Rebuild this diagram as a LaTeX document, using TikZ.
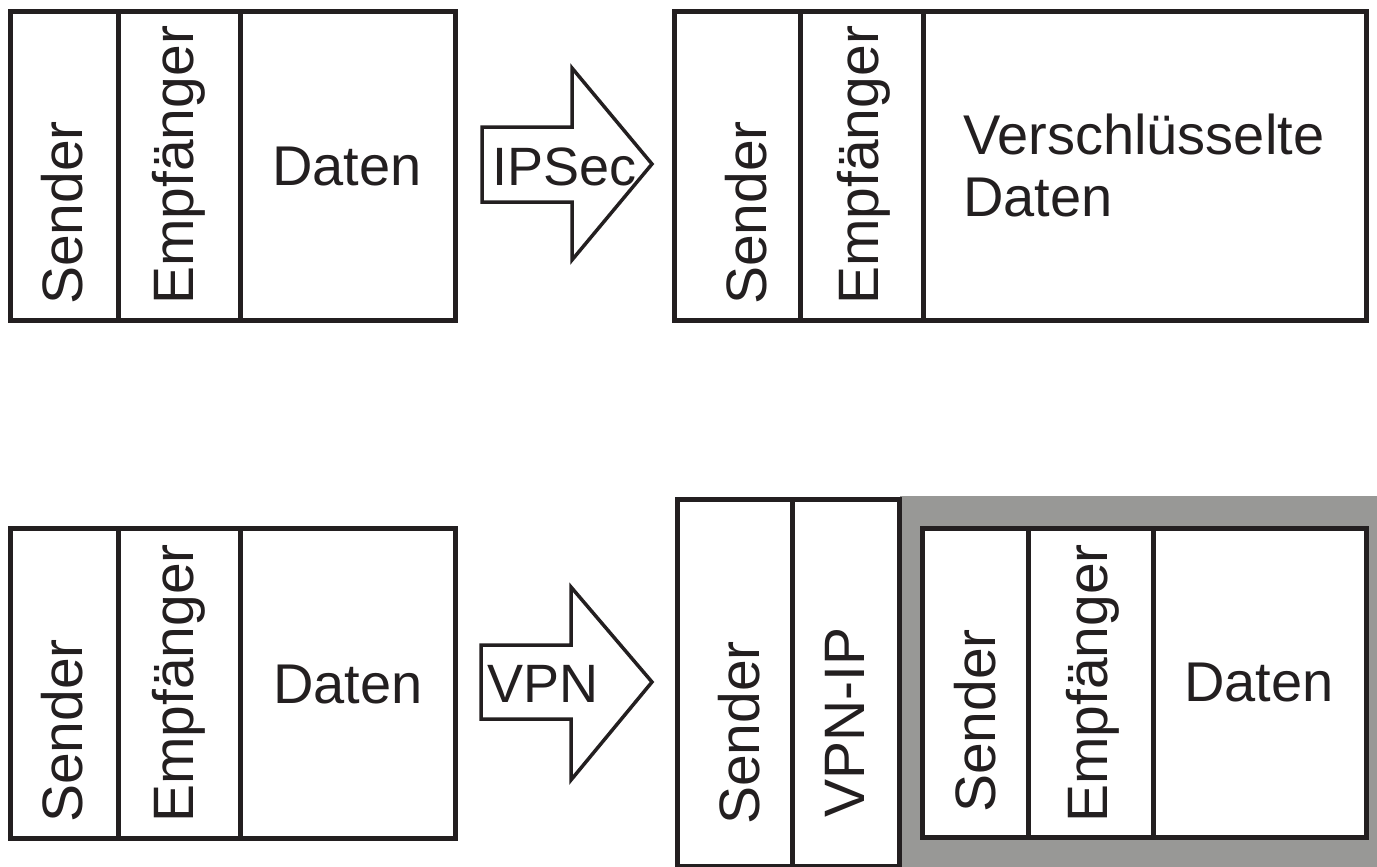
\documentclass[tikz,border=0pt]{standalone}
\usepackage{fontspec}
\setmainfont{Liberation Sans}
\definecolor{inkc}{RGB}{35,31,32}
\definecolor{pktgray}{RGB}{152,152,150}
\begin{document}
\begin{tikzpicture}[x=1pt,y=-1pt,
  boxline/.style={draw=inkc,line width=5pt},
  arrowshape/.style={draw=inkc,line width=3.5pt,line join=miter,fill=white},
  vlabel/.style={inner sep=0pt,anchor=base west,rotate=90,text=inkc,font=\fontsize{57}{64}\selectfont},
  hlabel/.style={inner sep=0pt,anchor=base west,text=inkc,font=\fontsize{56}{62}\selectfont,align=left},
  alabel/.style={inner sep=0pt,anchor=base west,text=inkc,font=\fontsize{54}{60}\selectfont}]
\useasboundingbox (0,0) rectangle (1377,867);
% ---- top left packet
\draw[boxline] (10.5,12) rectangle (455,320.5);
\draw[boxline] (118,12) -- (118,320.5);
\draw[boxline] (240.5,12) -- (240.5,320.5);
\node[vlabel] (s1) at (82,305) {Sender};
\node[vlabel] (e1) at (193,305) {Empfänger};
\node[hlabel] (d1) at (272,185) {Daten};
% ---- IPSec arrow
\draw[arrowshape] (482,127) -- (572,127) -- (572,68) -- (652,164) -- (572,260) -- (572,202) -- (482,202) -- cycle;
\node[alabel] (ipsec) at (492,185) {IPSec};
% ---- top right packet
\draw[boxline] (674,12) rectangle (1366,320.5);
\draw[boxline] (800.5,12) -- (800.5,320.5);
\draw[boxline] (923,12) -- (923,320.5);
\node[vlabel] (s2) at (766,305) {Sender};
\node[vlabel] (e2) at (878,305) {Empfänger};
\node[hlabel] (vd) at (963,216) {Verschlüsselte\\Daten};
% ---- bottom left packet
\draw[boxline] (10.5,528) rectangle (455,838);
\draw[boxline] (118,528) -- (118,838);
\draw[boxline] (240.5,528) -- (240.5,838);
\node[vlabel] (s3) at (82,823) {Sender};
\node[vlabel] (e3) at (193,823) {Empfänger};
\node[hlabel] (d3) at (273,703) {Daten};
% ---- VPN arrow
\draw[arrowshape] (481,645) -- (571,645) -- (571,587) -- (652,682) -- (571,780) -- (571,719) -- (481,719) -- cycle;
\node[alabel] (vpn) at (487,702) {VPN};
% ---- tunnel packet
\fill[pktgray] (899.5,496) rectangle (1377,867);
\draw[boxline] (677.5,499) rectangle (899.5,866);
\draw[boxline] (792,499) -- (792,866);
\node[vlabel] (s4) at (759,825) {Sender};
\node[vlabel] (vip) at (864,818) {VPN-IP};
\fill[white] (922,528) rectangle (1366,837.5);
\draw[boxline] (922,528) rectangle (1366,837.5);
\draw[boxline] (1028.5,528) -- (1028.5,837.5);
\draw[boxline] (1153,528) -- (1153,837.5);
\node[vlabel] (s5) at (995,813) {Sender};
\node[vlabel] (e5) at (1107,823) {Empfänger};
\node[hlabel] (d5) at (1184,701) {Daten};
\end{tikzpicture}
\end{document}
